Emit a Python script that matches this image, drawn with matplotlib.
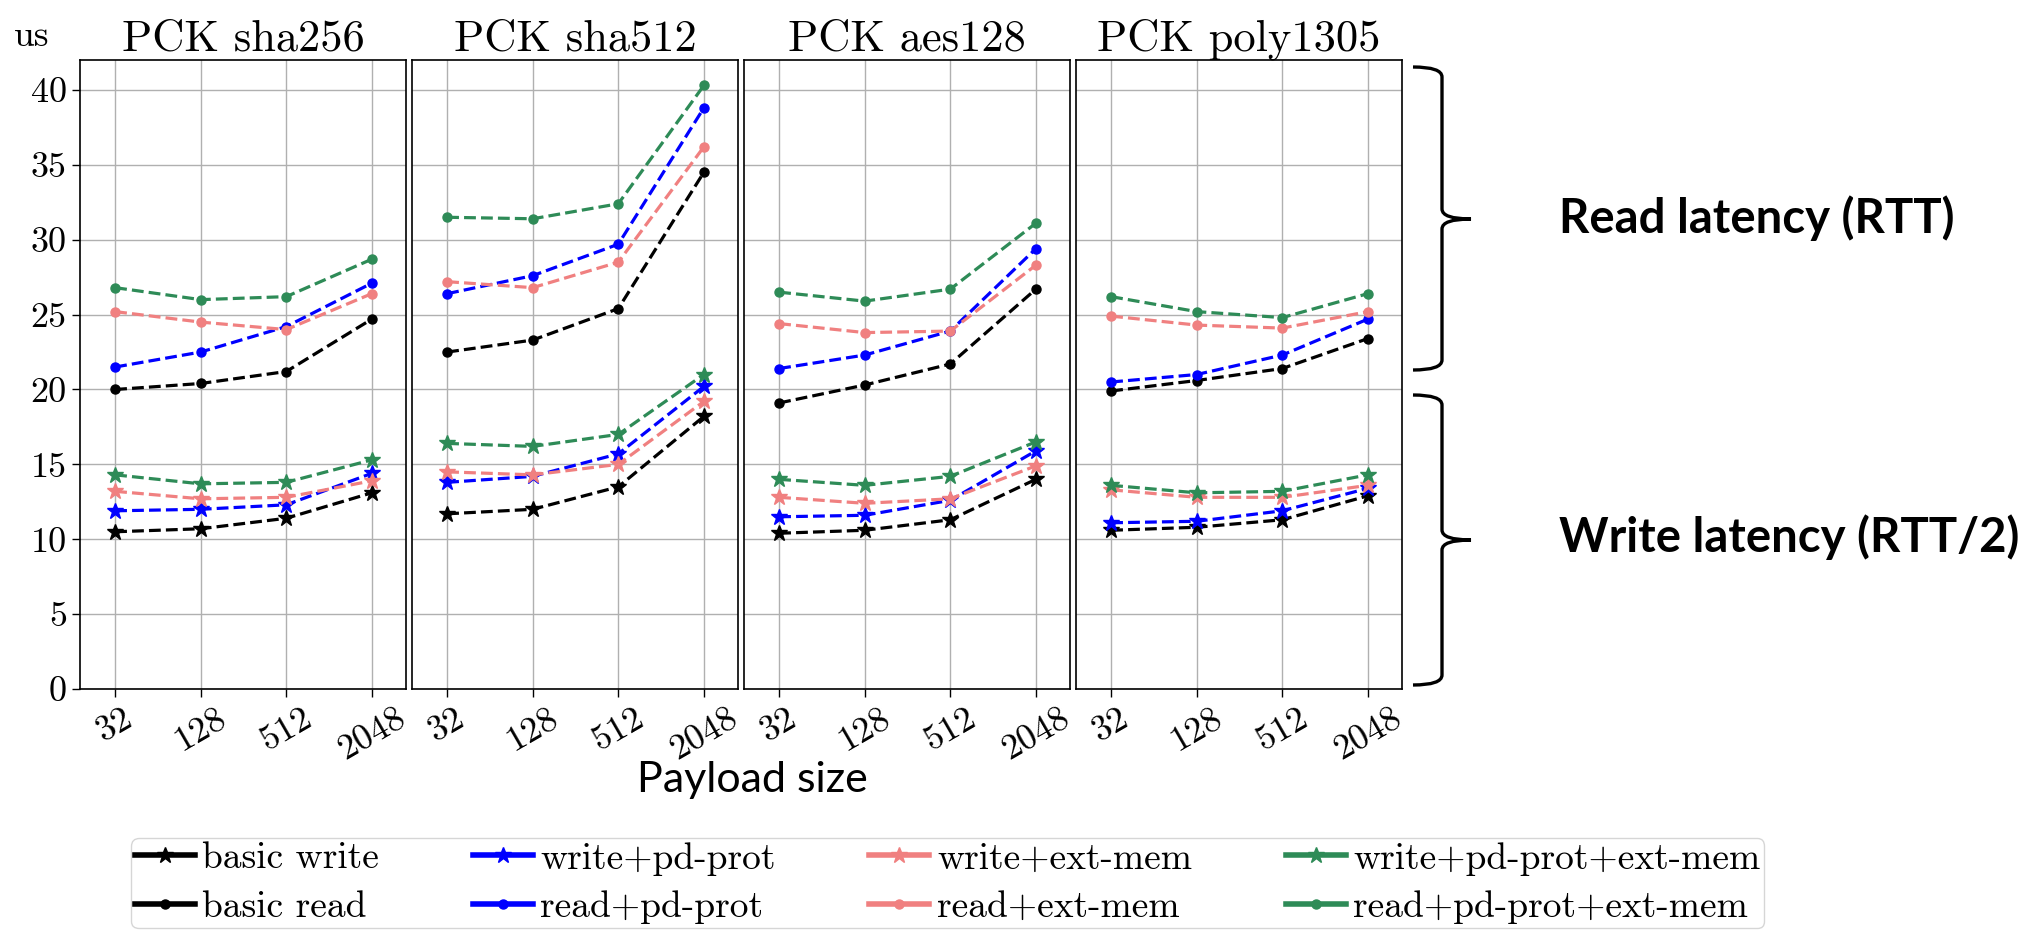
import matplotlib
matplotlib.use('Agg')
import matplotlib.pyplot as plt
from matplotlib.path import Path
from matplotlib.patches import PathPatch

plt.rcParams['font.family'] = ['cmr10', 'DejaVu Serif']
plt.rcParams['mathtext.fontset'] = 'cm'
plt.rcParams['axes.unicode_minus'] = False

# payload sizes (categorical x axis)
sizes = ['32', '128', '512', '2048']
panels = ['PCK sha256', 'PCK sha512', 'PCK aes128', 'PCK poly1305']

# latency in us, one list per panel
basic_write = [[10.5, 10.7, 11.4, 13.1], [11.7, 12.0, 13.5, 18.2],
               [10.4, 10.6, 11.3, 14.0], [10.6, 10.8, 11.3, 12.9]]
write_pd = [[11.9, 12.0, 12.3, 14.4], [13.8, 14.2, 15.7, 20.2],
            [11.5, 11.6, 12.6, 15.9], [11.1, 11.2, 11.9, 13.4]]
write_ext = [[13.2, 12.7, 12.8, 13.9], [14.5, 14.3, 15.0, 19.2],
             [12.8, 12.4, 12.7, 14.9], [13.3, 12.8, 12.8, 13.6]]
write_pd_ext = [[14.3, 13.7, 13.8, 15.3], [16.4, 16.2, 17.0, 21.0],
                [14.0, 13.6, 14.2, 16.5], [13.6, 13.1, 13.2, 14.3]]
basic_read = [[20.0, 20.4, 21.2, 24.7], [22.5, 23.3, 25.4, 34.5],
              [19.1, 20.3, 21.7, 26.7], [19.9, 20.6, 21.4, 23.4]]
read_pd = [[21.5, 22.5, 24.2, 27.1], [26.4, 27.6, 29.7, 38.8],
           [21.4, 22.3, 23.9, 29.4], [20.5, 21.0, 22.3, 24.7]]
read_ext = [[25.2, 24.5, 24.0, 26.4], [27.2, 26.8, 28.5, 36.2],
            [24.4, 23.8, 23.9, 28.3], [24.9, 24.3, 24.1, 25.2]]
read_pd_ext = [[26.8, 26.0, 26.2, 28.7], [31.5, 31.4, 32.4, 40.3],
               [26.5, 25.9, 26.7, 31.1], [26.2, 25.2, 24.8, 26.4]]

series = [  # label, data, colour, marker
    ('basic write', basic_write, 'black', '*'),
    ('basic read', basic_read, 'black', 'o'),
    ('write+pd-prot', write_pd, 'blue', '*'),
    ('read+pd-prot', read_pd, 'blue', 'o'),
    ('write+ext-mem', write_ext, 'lightcoral', '*'),
    ('read+ext-mem', read_ext, 'lightcoral', 'o'),
    ('write+pd-prot+ext-mem', write_pd_ext, 'seagreen', '*'),
    ('read+pd-prot+ext-mem', read_pd_ext, 'seagreen', 'o'),
]

W, H = 2037, 935
fig, axes = plt.subplots(1, 4, sharey=True, figsize=(W / 100, H / 100), dpi=100)
fig.subplots_adjust(left=0.0393, right=0.6883, top=0.9358, bottom=0.2631, wspace=0.0184)

x = list(range(len(sizes)))
for i, ax in enumerate(axes):
    for label, data, col, mk in series:
        ms = 12 if mk == '*' else 6.5
        ax.plot(x, data[i], '--', color=col, marker=mk, ms=ms, lw=2.3, label=label)
    ax.set_title(panels[i], fontsize=32, pad=7)
    ax.set_xticks(x)
    ax.set_xticklabels(sizes, rotation=30, ha='center', fontsize=26)
    ax.set_xlim(-0.41, 3.4)
    ax.set_ylim(0, 42)
    ax.set_yticks(range(0, 41, 5))
    ax.grid(True, color='#b0b0b0', lw=1)
    ax.tick_params(length=6, width=1, labelsize=26)
    for s in ax.spines.values():
        s.set_linewidth(1.2)
    if i > 0:
        ax.tick_params(left=False)

fig.text(32 / W, 1 - 36 / H, 'us', fontsize=27, ha='center', va='center')
fig.text(752 / W, 1 - 780 / H, 'Payload size', fontsize=31, family='Lato',
         ha='center', va='center')

# braces on the right side
def brace(y_top, y_mid, y_bot, x_end=1413, x_spine=1442, x_tip=1471, r=10):
    pts = [(x_end, y_top), (x_spine, y_top), (x_spine, y_top + r),
           (x_spine, y_mid - r), (x_spine, y_mid), (x_tip, y_mid),
           (x_spine, y_mid), (x_spine, y_mid + r),
           (x_spine, y_bot - r), (x_spine, y_bot), (x_end, y_bot)]
    codes = [Path.MOVETO, Path.CURVE3, Path.CURVE3,
             Path.LINETO, Path.CURVE3, Path.CURVE3,
             Path.CURVE3, Path.CURVE3,
             Path.LINETO, Path.CURVE3, Path.CURVE3]
    verts = [(px / W, 1 - py / H) for px, py in pts]
    fig.add_artist(PathPatch(Path(verts, codes), fill=False, lw=2.4,
                             color='black', transform=fig.transFigure))

brace(67, 219, 370)
brace(395, 540, 685)
fig.text(1559 / W, 1 - 218 / H, 'Read latency (RTT)', fontsize=34, family='Lato',
         weight='bold', ha='left', va='center')
fig.text(1559 / W, 1 - 537 / H, 'Write latency (RTT/2)', fontsize=34, family='Lato',
         weight='bold', ha='left', va='center')

handles, labels = axes[0].get_legend_handles_labels()
leg = fig.legend(handles, labels, ncol=4, loc='upper left', mode='expand',
                 bbox_to_anchor=(131 / W, 1 - 838 / H, 1633 / W, 0),
                 fontsize=27, handlelength=1.6, handletextpad=0.2,
                 borderaxespad=0, labelspacing=0.4, borderpad=0.1)
for ln in leg.get_lines():
    ln.set_linestyle('-')
    ln.set_linewidth(4)

fig.savefig('out.png', dpi=100)
